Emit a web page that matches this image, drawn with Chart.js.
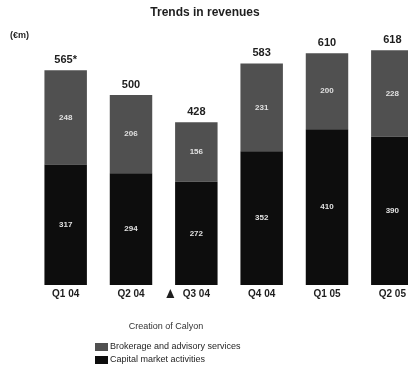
<!DOCTYPE html>
<html>
<head>
<meta charset="utf-8">
<script src="https://cdn.jsdelivr.net/npm/chart.js@4/dist/chart.umd.min.js"></script>
<style>
  html, body { margin: 0; padding: 0; background: #fff; overflow: hidden; }
  #wrap { position: relative; width: 408px; height: 368px; overflow: hidden; }
  #chart { position: absolute; left: 0; top: 0; }
</style>
</head>
<body>
<div id="wrap"><canvas id="chart" width="425" height="368"></canvas></div>
<script>
// quarterly revenues, €m
var quarters = ['Q1 04', 'Q2 04', 'Q3 04', 'Q4 04', 'Q1 05', 'Q2 05']
var capitalMarkets = [317, 294, 272, 352, 410, 390]
var brokerage = [248, 206, 156, 231, 200, 228]
var totals = [565, 500, 428, 583, 610, 618]
var totalLabels = ['565*', '500', '428', '583', '610', '618']

var ink = '#1e1e1e'
var font = 'Arial, "Liberation Sans", sans-serif'

// labels, title, marker and legend drawn on top of the bars
var extras = {
    id: 'extras',
    afterDatasetsDraw: (chart) => {
        var ctx = chart.ctx
        var x = chart.scales.x
        var y = chart.scales.y
        ctx.save()
        ctx.textAlign = 'center'
        ctx.textBaseline = 'middle'

        quarters.forEach((q, i) => {
            var cx = x.getPixelForValue(i)
            // total above the bar
            ctx.fillStyle = ink
            ctx.font = 'bold 11px ' + font
            ctx.fillText(totalLabels[i], cx, y.getPixelForValue(totals[i]) - 10)
            // segment values
            ctx.fillStyle = '#e0e0e0'
            ctx.font = 'bold 8px ' + font
            ctx.fillText(capitalMarkets[i], cx, y.getPixelForValue(capitalMarkets[i] / 2))
            ctx.fillText(brokerage[i], cx, y.getPixelForValue(capitalMarkets[i] + brokerage[i] / 2))
        })

        // marker for Q3 04
        var mx = x.getPixelForValue(2) - 26
        var my = chart.chartArea.bottom + 9
        ctx.fillStyle = ink
        ctx.beginPath()
        ctx.moveTo(mx, my - 5)
        ctx.lineTo(mx - 4, my + 4)
        ctx.lineTo(mx + 4, my + 4)
        ctx.closePath()
        ctx.fill()

        ctx.font = '9px ' + font
        ctx.fillStyle = '#333'
        ctx.fillText('Creation of Calyon', 166, 327)

        // title and unit
        ctx.fillStyle = ink
        ctx.font = 'bold 12px ' + font
        ctx.fillText('Trends in revenues', 205, 13)
        ctx.font = 'bold 9px ' + font
        ctx.textAlign = 'left'
        ctx.fillText('(€m)', 10, 36)

        // legend
        var items = chart.data.datasets.slice().reverse()
        items.forEach((ds, k) => {
            var ly = 347 + k * 13
            ctx.fillStyle = ds.backgroundColor
            ctx.fillRect(95, ly - 4, 13, 8)
            ctx.fillStyle = ink
            ctx.font = '9px ' + font
            ctx.fillText(ds.label, 110, ly)
        })
        ctx.restore()
    }
}

new Chart(document.getElementById('chart'), {
    type: 'bar',
    data: {
        labels: quarters,
        datasets: [{
            label: 'Capital market activities',
            data: capitalMarkets,
            backgroundColor: '#0d0d0d'
        }, {
            label: 'Brokerage and advisory services',
            data: brokerage,
            backgroundColor: '#505050'
        }]
    },
    options: {
        responsive: false,
        animation: false,
        devicePixelRatio: 1,
        datasets: {
            bar: { categoryPercentage: 1, barPercentage: 0.65 }
        },
        layout: { padding: { left: 33, right: 0, top: 19, bottom: 65 } },
        scales: {
            x: {
                stacked: true,
                grid: { display: false, drawTicks: false },
                border: { display: false },
                ticks: { color: ink, padding: 3, font: { family: font, size: 10, weight: 'bold' } }
            },
            y: {
                stacked: true,
                display: false,
                min: 0,
                max: 700
            }
        },
        plugins: {
            legend: { display: false },
            tooltip: { enabled: false }
        }
    },
    plugins: [extras]
})
</script>
</body>
</html>
